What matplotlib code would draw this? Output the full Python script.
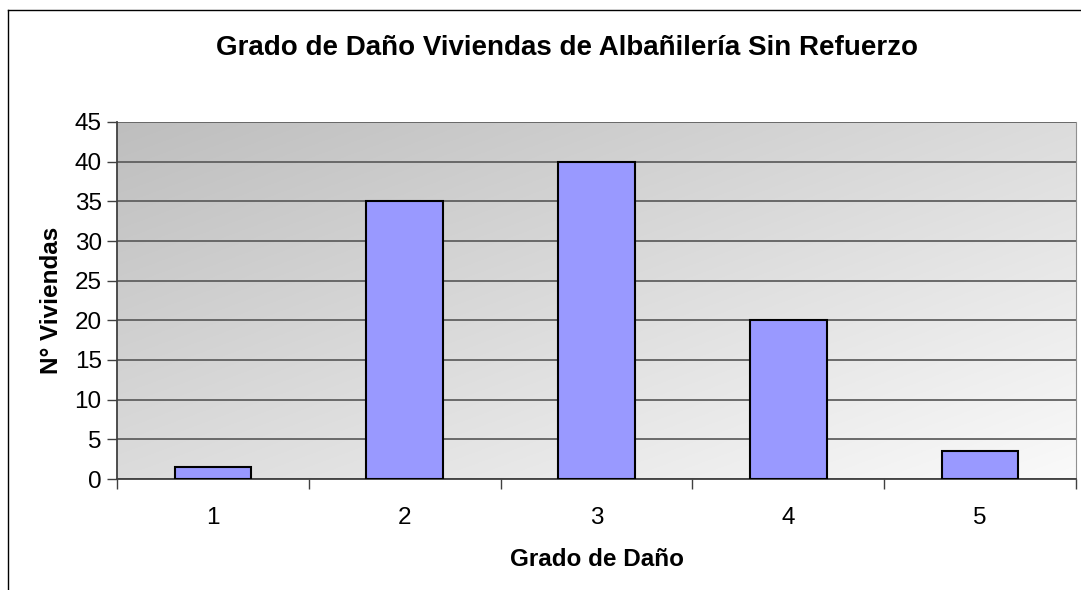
import numpy as np
import matplotlib.pyplot as plt
from matplotlib.lines import Line2D

plt.rcParams['font.family'] = ['Liberation Sans', 'DejaVu Sans']

# data
grados = [1, 2, 3, 4, 5]
viviendas = [1.5, 35, 40, 20, 3.5]
yticks = [0, 5, 10, 15, 20, 25, 30, 35, 40, 45]

fig = plt.figure(figsize=(10.81, 5.90), dpi=100)
ax = fig.add_axes([117/1081, 1-479/590, (1076-117)/1081, (479-122)/590])

# diagonal grey gradient background (dark top-left -> light bottom-right)
xx, yy = np.meshgrid(np.linspace(0, 1, 300), np.linspace(0, 1, 300))
g = (xx + yy) / 2
v = (190 + (250 - 190) * g) / 255.0
rgb = np.dstack([v, v, v])
ax.imshow(rgb, extent=(0, 1, 0, 1), transform=ax.transAxes,
          aspect='auto', origin='upper', zorder=0)

ax.bar(grados, viviendas, width=0.4, color='#9999FF', edgecolor='black',
       linewidth=1.5, zorder=3)

ax.set_xlim(0.5, 5.5)
ax.set_ylim(0, 45)
ax.set_yticks(yticks)
ax.yaxis.grid(True, color='#606060', linewidth=1.3, zorder=1)
ax.set_axisbelow(True)

ax.set_xticks(np.arange(0.5, 6, 1))
ax.set_xticklabels([])
ax.set_xticks(grados, minor=True)
ax.set_xticklabels([str(g_) for g_ in grados], minor=True)
ax.tick_params(axis='x', which='minor', length=0, pad=20, labelsize=17.5)
ax.tick_params(axis='x', which='major', length=7, width=1, color='#404040', direction='out')
ax.tick_params(axis='y', length=7, width=1, color='#404040', labelsize=17.5, pad=4)

ax.spines['top'].set_visible(False)
ax.spines['right'].set_color('#909090')
ax.spines['left'].set_color('#404040')
ax.spines['bottom'].set_color('#404040')
ax.spines['left'].set_linewidth(1.3)
ax.spines['bottom'].set_linewidth(1.3)

ax.set_xlabel('Grado de Daño', fontsize=17.5, fontweight='bold', labelpad=14)
ax.set_ylabel('N° Viviendas', fontsize=17.5, fontweight='bold', labelpad=8)

fig.text(567/1081, 1-48/590, 'Grado de Daño Viviendas de Albañilería Sin Refuerzo',
         ha='center', va='center', fontsize=20, fontweight='bold')

# outer chart frame (top and left edges visible)
fig.add_artist(Line2D([8/1081, 1.0], [1-10/590, 1-10/590], color='black', linewidth=1))
fig.add_artist(Line2D([8/1081, 8/1081], [0, 1-10/590], color='black', linewidth=1))

fig.savefig('out.png', dpi=100)
